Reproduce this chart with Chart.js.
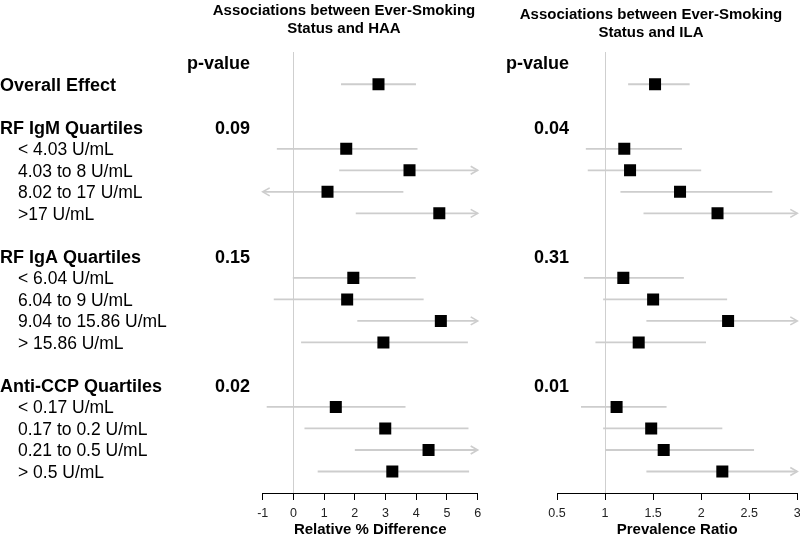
<!DOCTYPE html>
<html>
<head>
<meta charset="utf-8">
<script src="https://cdn.jsdelivr.net/npm/chart.js@4.4.1/dist/chart.umd.min.js"></script>
<style>
  html, body { margin: 0; padding: 0; background: #fff; overflow: hidden; }
  #wrap { position: relative; width: 800px; height: 539px; overflow: hidden; }
  canvas { position: absolute; left: 0; top: 0; }
</style>
</head>
<body>
<div id="wrap">
  <canvas id="haa" width="800" height="539"></canvas>
  <canvas id="ila" width="830" height="539"></canvas>
</div>
<script>
// ---- Data ----
const rowLabels = ['Overall Effect', '', 'RF IgM Quartiles', '< 4.03 U/mL', '4.03 to 8 U/mL', '8.02 to 17 U/mL', '>17 U/mL', '',
  'RF IgA Quartiles', '< 6.04 U/mL', '6.04 to 9 U/mL', '9.04 to 15.86 U/mL', '> 15.86 U/mL', '',
  'Anti-CCP Quartiles', '< 0.17 U/mL', '0.17 to 0.2 U/mL', '0.21 to 0.5 U/mL', '> 0.5 U/mL'];
const headerRows = [0, 2, 8, 14];

const pHAA = [null, null, '0.09', null, null, null, null, null, '0.15', null, null, null, null, null, '0.02', null, null, null, null];
const pILA = [null, null, '0.04', null, null, null, null, null, '0.31', null, null, null, null, null, '0.01', null, null, null, null];

// Relative % difference (HAA); Infinity / -Infinity = interval extends past the axis (arrow)
const estHAA = [2.77, null, null, 1.72, 3.78, 1.11, 4.75, null, null, 1.95, 1.75, 4.80, 2.93, null, null, 1.38, 2.99, 4.40, 3.22];
const loHAA  = [1.55, null, null, -0.54, 1.49, -Infinity, 2.03, null, null, -0.02, -0.64, 2.08, 0.25, null, null, -0.87, 0.36, 2.00, 0.79];
const hiHAA  = [3.99, null, null, 4.04, Infinity, 3.58, Infinity, null, null, 3.98, 4.24, Infinity, 5.68, null, null, 3.65, 5.70, Infinity, 5.72];

// Prevalence ratio (ILA)
const estILA = [1.52, null, null, 1.20, 1.26, 1.78, 2.17, null, null, 1.19, 1.50, 2.28, 1.35, null, null, 1.12, 1.48, 1.61, 2.22];
const loILA  = [1.24, null, null, 0.80, 0.82, 1.16, 1.40, null, null, 0.78, 0.98, 1.43, 0.90, null, null, 0.75, 0.98, 1.00, 1.43];
const hiILA  = [1.88, null, null, 1.80, 2.00, 2.74, Infinity, null, null, 1.82, 2.27, Infinity, 2.05, null, null, 1.64, 2.22, 2.55, Infinity];

const haaTicks = [-1, 0, 1, 2, 3, 4, 5, 6];
const ilaTicks = [0.5, 1, 1.5, 2, 2.5, 3];

// ---- Styling ----
const FONT = '"Liberation Sans", Arial, Helvetica, sans-serif';
const CI_COLOR = '#cdcdcd';
const REF_COLOR = '#cfcfcf';
const TEXT_DY = 1.5;

function ciData(lo, hi, min, max) {
  const out = [];
  lo.forEach((l, i) => {
    if (l === null || hi[i] === null) return;
    out.push({ x: Math.max(l, min), y: i });
    out.push({ x: Math.min(hi[i], max), y: i });
    out.push({ x: null, y: null });
  });
  return out;
}
function estData(est) {
  return est.map((v, i) => v === null ? null : { x: v, y: i }).filter(Boolean);
}

const arrowPlugin = {
  id: 'arrows',
  beforeDatasetsDraw(chart) {
    const cfg = chart.options.plugins.arrows;
    const xs = chart.scales.x, ys = chart.scales.y, ctx = chart.ctx;
    ctx.save();
    ctx.strokeStyle = CI_COLOR;
    ctx.lineWidth = 1.6;
    cfg.lo.forEach((l, i) => {
      const y = ys.getPixelForValue(i);
      if (l === -Infinity) {
        const x = xs.getPixelForValue(xs.min);
        ctx.beginPath(); ctx.moveTo(x + 7, y - 4); ctx.lineTo(x, y); ctx.lineTo(x + 7, y + 4); ctx.stroke();
      }
      if (cfg.hi[i] === Infinity) {
        const x = xs.getPixelForValue(xs.max);
        ctx.beginPath(); ctx.moveTo(x - 7, y - 4); ctx.lineTo(x, y); ctx.lineTo(x - 7, y + 4); ctx.stroke();
      }
    });
    ctx.restore();
  }
};

const textPlugin = {
  id: 'texts',
  afterDraw(chart) {
    const cfg = chart.options.plugins.texts;
    const ys = chart.scales.y, ctx = chart.ctx;
    ctx.save();
    ctx.fillStyle = '#000';
    ctx.textBaseline = 'middle';
    // title
    ctx.textAlign = 'center';
    ctx.font = 'bold 15px ' + FONT;
    cfg.title.forEach((t, k) => ctx.fillText(t, cfg.titleX, cfg.titleY + k * 17.5));
    // row labels
    if (cfg.rowLabels) {
      ctx.textAlign = 'left';
      cfg.rowLabels.forEach((lab, i) => {
        if (!lab) return;
        const head = headerRows.includes(i);
        ctx.font = (head ? 'bold 18px ' : '17.5px ') + FONT;
        ctx.fillText(lab, head ? 0 : 18, ys.getPixelForValue(i) + TEXT_DY);
      });
    }
    // p-values
    ctx.textAlign = 'right';
    ctx.font = 'bold 18px ' + FONT;
    ctx.fillText('p-value', cfg.pX, ys.getPixelForValue(-1) + TEXT_DY);
    cfg.p.forEach((p, i) => { if (p) ctx.fillText(p, cfg.pX, ys.getPixelForValue(i) + TEXT_DY); });
    ctx.restore();
  }
};

function makeChart(id, opt) {
  const canvas = document.getElementById(id);
  return new Chart(canvas, {
    type: 'scatter',
    data: {
      datasets: [
        { data: ciData(opt.lo, opt.hi, opt.min, opt.max), showLine: true, spanGaps: false, order: 2,
          borderColor: CI_COLOR, borderWidth: 1.8, pointRadius: 0, pointHoverRadius: 0 },
        { data: estData(opt.est), pointStyle: 'rect', pointRadius: 8.5, pointHoverRadius: 8.5, order: 1,
          backgroundColor: '#000', borderWidth: 0 }
      ]
    },
    options: {
      responsive: false,
      animation: false,
      events: [],
      layout: { padding: { left: opt.left, right: canvas.width - opt.right, top: 52, bottom: 0 } },
      scales: {
        x: {
          type: 'linear', min: opt.min, max: opt.max,
          afterBuildTicks: (s) => { s.ticks = opt.ticks.map(v => ({ value: v })); },
          afterFit: (s) => { s.height = 46; },
          grid: {
            drawOnChartArea: true, drawTicks: true, tickLength: 7,
            color: (c) => (c.tick && c.tick.value === opt.ref) ? REF_COLOR : 'rgba(0,0,0,0)',
            tickColor: '#000', lineWidth: 1, tickWidth: 1
          },
          border: { display: true, color: '#000', width: 1 },
          ticks: { color: '#222', font: { family: FONT, size: 12.5 }, padding: 6, maxRotation: 0,
                   autoSkip: false, callback: (v) => String(v) },
          title: { display: true, text: opt.xTitle, color: '#000',
                   font: { family: FONT, size: 15, weight: 'bold' }, padding: { top: 0, bottom: 0 } }
        },
        y: { type: 'linear', display: false, reverse: true, min: -1.5, max: 19 }
      },
      plugins: {
        legend: { display: false }, tooltip: { enabled: false },
        arrows: { lo: opt.lo, hi: opt.hi },
        texts: opt.texts
      }
    },
    plugins: [arrowPlugin, textPlugin]
  });
}

makeChart('haa', {
  est: estHAA, lo: loHAA, hi: hiHAA, min: -1, max: 6, ticks: haaTicks, ref: 0,
  left: 262.7, right: 477.7, xTitle: 'Relative % Difference',
  texts: { title: ['Associations between Ever-Smoking', 'Status and HAA'], titleX: 344, titleY: 11,
           rowLabels: rowLabels, p: pHAA, pX: 250 }
});
makeChart('ila', {
  est: estILA, lo: loILA, hi: hiILA, min: 0.5, max: 3, ticks: ilaTicks, ref: 1,
  left: 557, right: 797.3, xTitle: 'Prevalence Ratio',
  texts: { title: ['Associations between Ever-Smoking', 'Status and ILA'], titleX: 651, titleY: 15,
           rowLabels: null, p: pILA, pX: 569 }
});
</script>
</body>
</html>
